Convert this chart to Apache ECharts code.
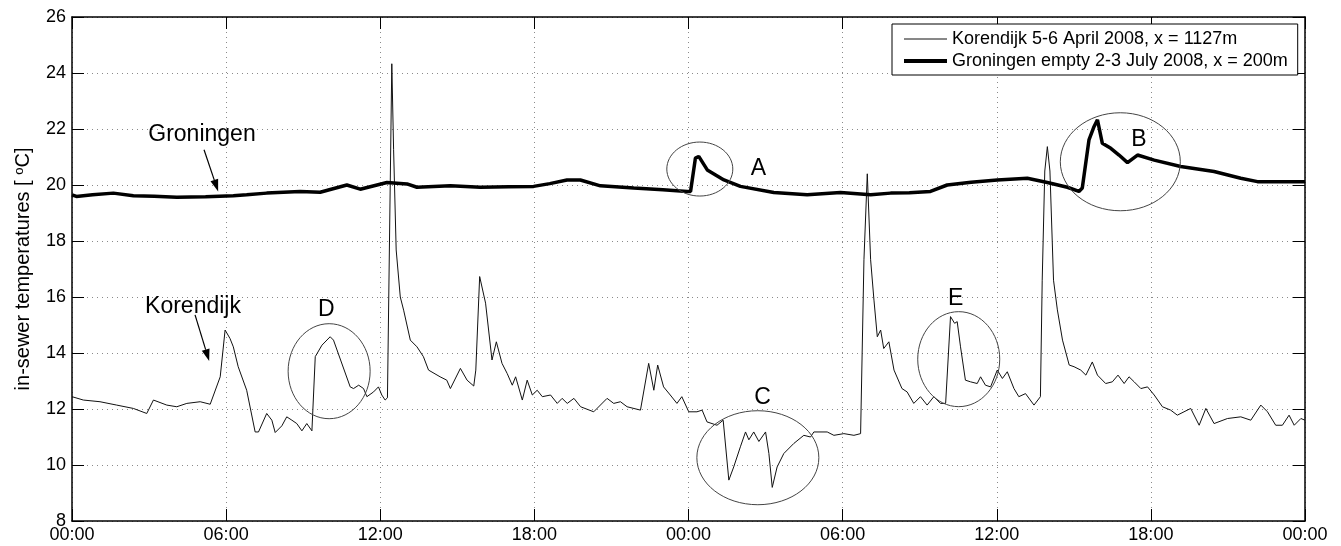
<!DOCTYPE html>
<html>
<head>
<meta charset="utf-8">
<script src="https://cdn.jsdelivr.net/npm/echarts@6/dist/echarts.min.js"></script>
<style>
    html, body { margin: 0; padding: 0; background: #fff; }
    #main { width: 1341px; height: 546px; }
</style>
</head>
<body>
<div id="main"></div>
<script>
    // hours since start (0-48) and temperatures
    var korHours = [0, 0.44, 1.09, 1.74, 2.39, 2.91, 3.17, 3.69, 4.08, 4.47, 4.99, 5.38, 5.77, 5.96, 6.15, 6.28, 6.47, 6.8,
        7.13, 7.26, 7.58, 7.78, 7.91, 8.17, 8.36, 8.56, 8.75, 8.95, 9.14, 9.34, 9.47, 9.73, 10.05, 10.18, 10.83, 10.96,
        11.16, 11.35, 11.48, 11.74, 11.93, 12.06, 12.19, 12.28, 12.45, 12.52, 12.62, 12.78, 12.91, 13.17, 13.43, 13.68,
        13.88, 14.33, 14.59, 14.73, 15.12, 15.38, 15.64, 15.72, 15.87, 16.1, 16.35, 16.52, 16.74, 16.94, 17.14, 17.27,
        17.53, 17.72, 17.92, 18.11, 18.31, 18.63, 18.89, 19.08, 19.28, 19.54, 19.8, 20.31, 20.83, 21.09, 21.35, 21.61,
        22.13, 22.45, 22.65, 22.8, 23.03, 23.29, 23.55, 23.74, 24.01, 24.33, 24.53, 24.72, 25.11, 25.35, 25.57, 25.76,
        26.02, 26.22, 26.35, 26.54, 26.74, 27.0, 27.13, 27.26, 27.45, 27.71, 28.1, 28.49, 28.75, 28.88, 29.4, 29.66,
        30.05, 30.44, 30.7, 30.83, 30.96, 31.09, 31.22, 31.35, 31.48, 31.6, 31.8, 32.0, 32.31, 32.51, 32.77, 33.03,
        33.29, 33.55, 33.81, 34.01, 34.2, 34.36, 34.46, 34.59, 34.78, 34.98, 35.24, 35.37, 35.56, 35.76, 36.02, 36.22,
        36.41, 36.67, 36.86, 37.12, 37.45, 37.7, 37.77, 37.87, 37.97, 38.07, 38.21, 38.36, 38.56, 38.82, 39.01, 39.27,
        39.47, 39.72, 39.92, 40.24, 40.5, 40.72, 40.96, 41.15, 41.35, 41.61, 41.87, 42.13, 42.45, 42.77, 43.03, 43.29,
        43.55, 43.88, 44.14, 44.46, 44.98, 45.5, 45.89, 46.28, 46.54, 46.86, 47.12, 47.38, 47.58, 47.84, 48];
    var korTemps = [12.44, 12.32, 12.26, 12.14, 12.02, 11.84, 12.32, 12.14, 12.08, 12.2, 12.26, 12.17, 13.15, 14.82, 14.52, 14.22, 13.51, 12.67,
        11.18, 11.18, 11.84, 11.6, 11.16, 11.4, 11.72, 11.6, 11.48, 11.22, 11.48, 11.22, 13.87, 14.28, 14.58, 14.46, 12.79, 12.73,
        12.85, 12.73, 12.44, 12.61, 12.79, 12.5, 12.32, 12.4, 24.33, 21.26, 17.68, 16.0, 15.53, 14.46, 14.22, 13.87,
        13.39, 13.15, 13.03, 12.73, 13.45, 13.03, 12.82, 13.39, 16.73, 15.78, 13.75, 14.4, 13.63, 13.27, 12.85, 13.15,
        12.32, 13.03, 12.5, 12.67, 12.44, 12.5, 12.2, 12.38, 12.2, 12.38, 12.08, 11.9, 12.38, 12.2, 12.26, 12.08,
        11.96, 13.63, 12.67, 13.57, 12.79, 12.5, 12.2, 12.44, 11.9, 11.9, 11.96, 11.54, 11.42, 11.6, 9.46, 9.93,
        10.65, 11.18, 10.9, 11.18, 10.84, 11.18, 10.41, 9.2, 9.93, 10.41, 10.77, 11.06, 11.0, 11.18, 11.18, 11.06,
        11.12, 11.06, 11.12, 17.33, 20.4, 17.33, 15.89, 14.58, 14.82, 14.16, 14.4, 13.39, 12.73, 12.61, 12.2, 12.44,
        12.14, 12.44, 12.2, 12.2, 15.3, 15.06, 15.12, 14.22, 13.03, 12.97, 12.91, 13.15, 12.85, 12.79, 13.39, 13.09,
        13.33, 12.73, 12.44, 12.55, 12.14, 12.44, 16.6, 20.5, 21.37, 20.5, 16.6, 15.54, 14.46, 13.57, 13.51, 13.39,
        13.21, 13.68, 13.21, 12.91, 12.97, 13.21, 12.91, 13.15, 12.97, 12.73, 12.79, 12.5, 12.08, 11.96, 11.78, 11.9,
        12.02, 11.42, 12.02, 11.48, 11.66, 11.72, 11.6, 12.14, 11.9, 11.42, 11.42, 11.78, 11.42, 11.66, 11.6];

    var groHours = [0, 0.17, 0.8, 1.61, 2.39, 3.2, 4.08, 5.2, 6.28, 6.8, 7.58, 8.88, 9.66, 10.7, 11.22, 12.26, 13.04, 13.43,
        14.73, 15.9, 17.0, 17.97, 18.6, 19.27, 19.79, 20.57, 21.87, 23.0, 23.95, 24.08, 24.27, 24.4, 24.73, 25.38, 26.02,
        27.32, 28.62, 29.92, 31.09, 31.87, 32.6, 33.42, 34.07, 35.0, 36.02, 37.19, 37.97, 38.75, 39.2, 39.33, 39.59,
        39.79, 39.92, 40.11, 40.44, 40.76, 41.09, 41.48, 42.13, 43.16, 44.46, 45.5, 46.15, 47.0, 48];
    var groTemps = [19.65, 19.59, 19.65, 19.71, 19.62, 19.6, 19.56, 19.58, 19.62, 19.65, 19.71, 19.77, 19.74, 20.0, 19.85, 20.09, 20.04, 19.92,
        19.97, 19.92, 19.94, 19.95, 20.05, 20.18, 20.18, 19.97, 19.89, 19.83, 19.77, 19.77, 20.96, 21.02, 20.54, 20.18, 19.95,
        19.73, 19.65, 19.73, 19.65, 19.71, 19.72, 19.77, 20.0, 20.1, 20.18, 20.24, 20.09, 19.92, 19.77, 19.89, 21.61,
        22.09, 22.33, 21.49, 21.31, 21.07, 20.8, 21.07, 20.89, 20.66, 20.48, 20.24, 20.12, 20.12, 20.12];

    var korName = 'Korendijk 5-6 April 2008, x = 1127m';
    var groName = 'Groningen empty 2-3 July 2008, x = 200m';

    // annotations, placed in data coordinates (hours, degC)
    var ellipses = [
        {h: 24.44, t: 20.57, rx: 33, ry: 27},
        {h: 40.81, t: 20.83, rx: 60, ry: 49},
        {h: 26.7, t: 10.26, rx: 61, ry: 47},
        {h: 10.01, t: 13.35, rx: 41, ry: 47.5},
        {h: 34.52, t: 13.78, rx: 41, ry: 47.5}
    ];
    var notes = [
        {text: 'A', h: 26.72, t: 20.6},
        {text: 'B', h: 41.53, t: 21.63},
        {text: 'C', h: 26.88, t: 12.41},
        {text: 'D', h: 9.9, t: 15.55},
        {text: 'E', h: 34.4, t: 15.95},
        {text: 'Groningen', h: 5.06, t: 21.81},
        {text: 'Korendijk', h: 4.71, t: 15.66}
    ];
    var arrows = [
        {from: [5.14, 21.26], to: [5.69, 19.77]},
        {from: [4.79, 15.36], to: [5.34, 13.71]}
    ];

    function zip(xs, ys) {
        var out = [];
        for (var i = 0; i < xs.length; i++) out.push([xs[i], ys[i]]);
        return out;
    }
    function hhmm(v) {
        var h = Math.round(v) % 24;
        return (h < 10 ? '0' : '') + h + ':00';
    }

    var font = 'Liberation Sans, Arial, Helvetica, sans-serif';
    var chart = echarts.init(document.getElementById('main'));

    var xBase = {
        type: 'value', min: 0, max: 48, interval: 6,
        axisLine: {onZero: false, lineStyle: {color: '#000', width: 1.5}},
        axisTick: {inside: true, length: 12, lineStyle: {color: '#000'}}
    };
    var yBase = {
        type: 'value', min: 8, max: 26, interval: 2,
        axisLine: {onZero: false, lineStyle: {color: '#000', width: 1.5}},
        axisTick: {inside: true, length: 12, lineStyle: {color: '#000'}}
    };
    var grid = {type: [1, 4], color: '#8a8a8a', width: 1};

    var option = {
        animation: false,
        backgroundColor: '#fff',
        textStyle: {fontFamily: font},
        grid: {left: 72, right: 36, top: 17, bottom: 25},
        legend: {
            orient: 'vertical', left: 892, top: 24,
            padding: [6, 10, 5, 10],
            itemWidth: 43, itemHeight: 14, itemGap: 4,
            borderColor: '#000', borderWidth: 1, backgroundColor: '#fff',
            itemStyle: {opacity: 0},
            textStyle: {fontSize: 18, color: '#000', fontFamily: font},
            data: [
                {name: korName, lineStyle: {width: 1, color: '#111'}},
                {name: groName, lineStyle: {width: 4, color: '#000'}}
            ]
        },
        xAxis: [
            Object.assign({}, xBase, {
                position: 'bottom',
                axisLabel: {formatter: hhmm, color: '#000', fontSize: 18, margin: 5},
                splitLine: {show: true, lineStyle: grid}
            }),
            Object.assign({}, xBase, {position: 'top', axisLabel: {show: false}, splitLine: {show: false}})
        ],
        yAxis: [
            Object.assign({}, yBase, {
                position: 'left',
                name: 'in-sewer temperatures [ {sup|o}C]',
                nameLocation: 'middle', nameGap: 38,
                nameTextStyle: {
                    fontSize: 20, color: '#000', fontFamily: font,
                    rich: {sup: {fontSize: 13, verticalAlign: 'top', color: '#000', padding: [0, 0, 8, 0]}}
                },
                axisLabel: {color: '#000', fontSize: 18, margin: 6},
                splitLine: {show: true, lineStyle: grid}
            }),
            Object.assign({}, yBase, {position: 'right', axisLabel: {show: false}, splitLine: {show: false}})
        ],
        series: [
            {
                name: korName, type: 'line', showSymbol: false, symbol: 'none',
                lineStyle: {color: '#111', width: 1},
                itemStyle: {color: '#111'},
                data: zip(korHours, korTemps)
            },
            {
                name: groName, type: 'line', showSymbol: false, symbol: 'none',
                lineStyle: {color: '#000', width: 3.5},
                itemStyle: {color: '#000'},
                data: zip(groHours, groTemps)
            }
        ]
    };
    chart.setOption(option);

    // annotations need the finished axes, so they go in a second pass
    function toPx(h, t) {
        return chart.convertToPixel({xAxisIndex: 0, yAxisIndex: 0}, [h, t]);
    }
    var gfx = [];
    ellipses.forEach(function (e) {
        var p = toPx(e.h, e.t);
        gfx.push({
            type: 'ellipse', z: 100,
            shape: {cx: p[0], cy: p[1], rx: e.rx, ry: e.ry},
            style: {fill: null, stroke: '#444', lineWidth: 1}
        });
    });
    notes.forEach(function (n) {
        var p = toPx(n.h, n.t);
        gfx.push({
            type: 'text', z: 100, x: p[0], y: p[1],
            style: {text: n.text, fill: '#000', font: '23px ' + font, align: 'center', verticalAlign: 'middle'}
        });
    });
    arrows.forEach(function (a) {
        var p0 = toPx(a.from[0], a.from[1]);
        var p1 = toPx(a.to[0], a.to[1]);
        var dx = p1[0] - p0[0], dy = p1[1] - p0[1];
        var len = Math.sqrt(dx * dx + dy * dy);
        var ux = dx / len, uy = dy / len;
        var bx = p1[0] - ux * 12, by = p1[1] - uy * 12;
        gfx.push({
            type: 'line', z: 100,
            shape: {x1: p0[0], y1: p0[1], x2: bx, y2: by},
            style: {stroke: '#000', lineWidth: 1.2}
        });
        gfx.push({
            type: 'polygon', z: 100,
            shape: {points: [[p1[0], p1[1]], [bx - uy * 4, by + ux * 4], [bx + uy * 4, by - ux * 4]]},
            style: {fill: '#000'}
        });
    });
    chart.setOption({graphic: gfx});
</script>
</body>
</html>
